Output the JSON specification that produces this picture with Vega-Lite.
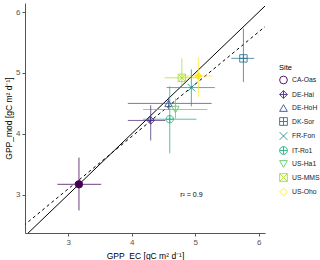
{
  "$schema": "https://vega.github.io/schema/vega-lite/v6.json",
  "width": 240,
  "height": 230,
  "autosize": {"type": "none"},
  "padding": {"left": 25, "top": 3, "right": 55, "bottom": 27},
  "background": "white",
  "config": {
    "view": {"stroke": null},
    "font": "Liberation Sans",
    "axis": {
      "grid": false,
      "domainColor": "#555555",
      "domainWidth": 1,
      "tickColor": "#555555",
      "tickSize": 3,
      "labelColor": "#555555",
      "labelFontSize": 8,
      "labelPadding": 2,
      "titleFontSize": 8.5,
      "titleFontWeight": "normal",
      "titleColor": "#000000",
      "format": "d"
    },
    "legend": {
      "orient": "none",
      "legendX": 254,
      "legendY": 61,
      "titleFontSize": 7.5,
      "titleFontWeight": "normal",
      "titleColor": "#000000",
      "labelFontSize": 6.8,
      "labelColor": "#222222",
      "symbolSize": 60,
      "symbolStrokeWidth": 1,
      "rowPadding": 1.5,
      "labelOffset": 4,
      "titlePadding": 4
    }
  },
  "datasets": {
    "sites": [
      {"site": "CA-Oas", "x": 3.17, "y": 3.17, "xlo": 2.83, "xhi": 3.52, "ylo": 2.74, "yhi": 3.61},
      {"site": "DE-Hai", "x": 4.30, "y": 4.22, "xlo": 3.94, "xhi": 4.53, "ylo": 3.89, "yhi": 4.47},
      {"site": "DE-HoH", "x": 4.58, "y": 4.50, "xlo": 3.94, "xhi": 5.26, "ylo": 4.40, "yhi": 4.60},
      {"site": "DK-Sor", "x": 5.76, "y": 5.24, "xlo": 5.57, "xhi": 5.93, "ylo": 4.85, "yhi": 5.73},
      {"site": "FR-Fon", "x": 4.94, "y": 4.76, "xlo": 4.55, "xhi": 5.31, "ylo": 4.45, "yhi": 5.06},
      {"site": "IT-Ro1", "x": 4.60, "y": 4.24, "xlo": 4.18, "xhi": 5.02, "ylo": 3.68, "yhi": 4.78},
      {"site": "US-Ha1", "x": 4.69, "y": 4.40, "xlo": 4.18, "xhi": 5.19, "ylo": 4.25, "yhi": 4.58},
      {"site": "US-MMS", "x": 4.79, "y": 4.92, "xlo": 4.52, "xhi": 5.07, "ylo": 4.79, "yhi": 5.24},
      {"site": "US-Oho", "x": 5.05, "y": 4.95, "xlo": 4.79, "xhi": 5.27, "ylo": 4.60, "yhi": 5.26}
    ],
    "lines": [
      {"kind": "one", "x": 2.3, "y": 2.3},
      {"kind": "one", "x": 6.3, "y": 6.3},
      {"kind": "fit", "x": 2.3, "y": 2.493},
      {"kind": "fit", "x": 6.3, "y": 5.933}
    ],
    "note": [{"x": 4.94, "y": 2.99, "label": "r² = 0.9"}]
  },
  "layer": [
    {
      "data": {"name": "lines"},
      "transform": [{"filter": "datum.kind == 'one'"}],
      "mark": {"type": "line", "color": "#000000", "strokeWidth": 1, "clip": true},
      "encoding": {
        "x": {"field": "x", "type": "quantitative", "scale": {"domain": [2.32, 6.1], "nice": false, "zero": false}, "axis": {"values": [3, 4, 5, 6], "title": "GPP_EC [gC m² d⁻¹]", "titlePadding": 5}},
        "y": {"field": "y", "type": "quantitative", "scale": {"domain": [2.37, 6.15], "nice": false, "zero": false}, "axis": {"values": [3, 4, 5, 6], "title": "GPP_mod [gC m² d⁻¹]", "titlePadding": 2}}
      }
    },
    {
      "data": {"name": "lines"},
      "transform": [{"filter": "datum.kind == 'fit'"}],
      "mark": {"type": "line", "color": "#000000", "strokeWidth": 1, "strokeDash": [3, 3], "clip": true},
      "encoding": {
        "x": {"field": "x", "type": "quantitative"},
        "y": {"field": "y", "type": "quantitative"}
      }
    },
    {
      "data": {"name": "sites"},
      "mark": {"type": "rule", "strokeWidth": 1, "opacity": 0.75},
      "encoding": {
        "x": {"field": "xlo", "type": "quantitative"},
        "x2": {"field": "xhi"},
        "y": {"field": "y", "type": "quantitative"},
        "stroke": {"field": "site", "type": "nominal", "legend": null, "scale": {"range": ["#440154", "#472D7B", "#3B528B", "#2C728E", "#21908C", "#27AD81", "#5DC863", "#AADC32", "#FDE725"]}}
      }
    },
    {
      "data": {"name": "sites"},
      "mark": {"type": "rule", "strokeWidth": 1, "opacity": 0.75},
      "encoding": {
        "y": {"field": "ylo", "type": "quantitative"},
        "y2": {"field": "yhi"},
        "x": {"field": "x", "type": "quantitative"},
        "stroke": {"field": "site", "type": "nominal", "legend": null}
      }
    },
    {
      "data": {"name": "sites"},
      "mark": {"type": "point", "size": 55, "strokeWidth": 1, "opacity": 0.85, "filled": false},
      "encoding": {
        "x": {"field": "x", "type": "quantitative"},
        "y": {"field": "y", "type": "quantitative"},
        "color": {"field": "site", "type": "nominal", "title": "Site", "scale": {"range": ["#440154", "#472D7B", "#3B528B", "#2C728E", "#21908C", "#27AD81", "#5DC863", "#AADC32", "#FDE725"]},
          "legend": {"symbolOpacity": 0.9, "encode": {"symbols": {"update": {"fill": {"signal": "datum.value == 'CA-Oas' || datum.value == 'US-Oho' ? scale('color', datum.value) : 'transparent'"}}}}}},
        "shape": {"field": "site", "type": "nominal", "title": "Site", "scale": {"range": [
          "circle",
          "M0,-1L1,0L0,1L-1,0ZM0,-1L0,1M-1,0L1,0",
          "triangle-up",
          "M-1,-1H1V1H-1ZM0,-1L0,1M-1,0L1,0",
          "M-1,-1L1,1M-1,1L1,-1",
          "M-1,0A1,1,0,1,1,1,0A1,1,0,1,1,-1,0ZM-1,0L1,0M0,-1L0,1",
          "triangle-down",
          "M-1,-1H1V1H-1ZM-1,-1L1,1M-1,1L1,-1",
          "diamond"
        ]},
          "legend": {"symbolOpacity": 0.9, "encode": {"symbols": {"update": {"fill": {"signal": "datum.value == 'CA-Oas' || datum.value == 'US-Oho' ? scale('color', datum.value) : 'transparent'"}}}}}}
      }
    },
    {
      "data": {"name": "sites"},
      "transform": [{"filter": "datum.site == 'CA-Oas'"}],
      "mark": {"type": "point", "shape": "circle", "size": 55, "strokeWidth": 0, "opacity": 1, "filled": true},
      "encoding": {
        "x": {"field": "x", "type": "quantitative"},
        "y": {"field": "y", "type": "quantitative"},
        "fill": {"field": "site", "type": "nominal", "legend": null, "scale": {"domain": ["CA-Oas", "US-Oho"], "range": ["#440154", "#FDE725"]}}
      }
    },
    {
      "data": {"name": "sites"},
      "transform": [{"filter": "datum.site == 'US-Oho'"}],
      "mark": {"type": "point", "shape": "diamond", "size": 55, "strokeWidth": 0, "opacity": 1, "filled": true},
      "encoding": {
        "x": {"field": "x", "type": "quantitative"},
        "y": {"field": "y", "type": "quantitative"},
        "fill": {"field": "site", "type": "nominal", "legend": null}
      }
    },
    {
      "data": {"name": "note"},
      "mark": {"type": "text", "fontSize": 7, "color": "#000000"},
      "encoding": {
        "x": {"field": "x", "type": "quantitative"},
        "y": {"field": "y", "type": "quantitative"},
        "text": {"field": "label"}
      }
    }
  ],
  "encoding": {}
}
